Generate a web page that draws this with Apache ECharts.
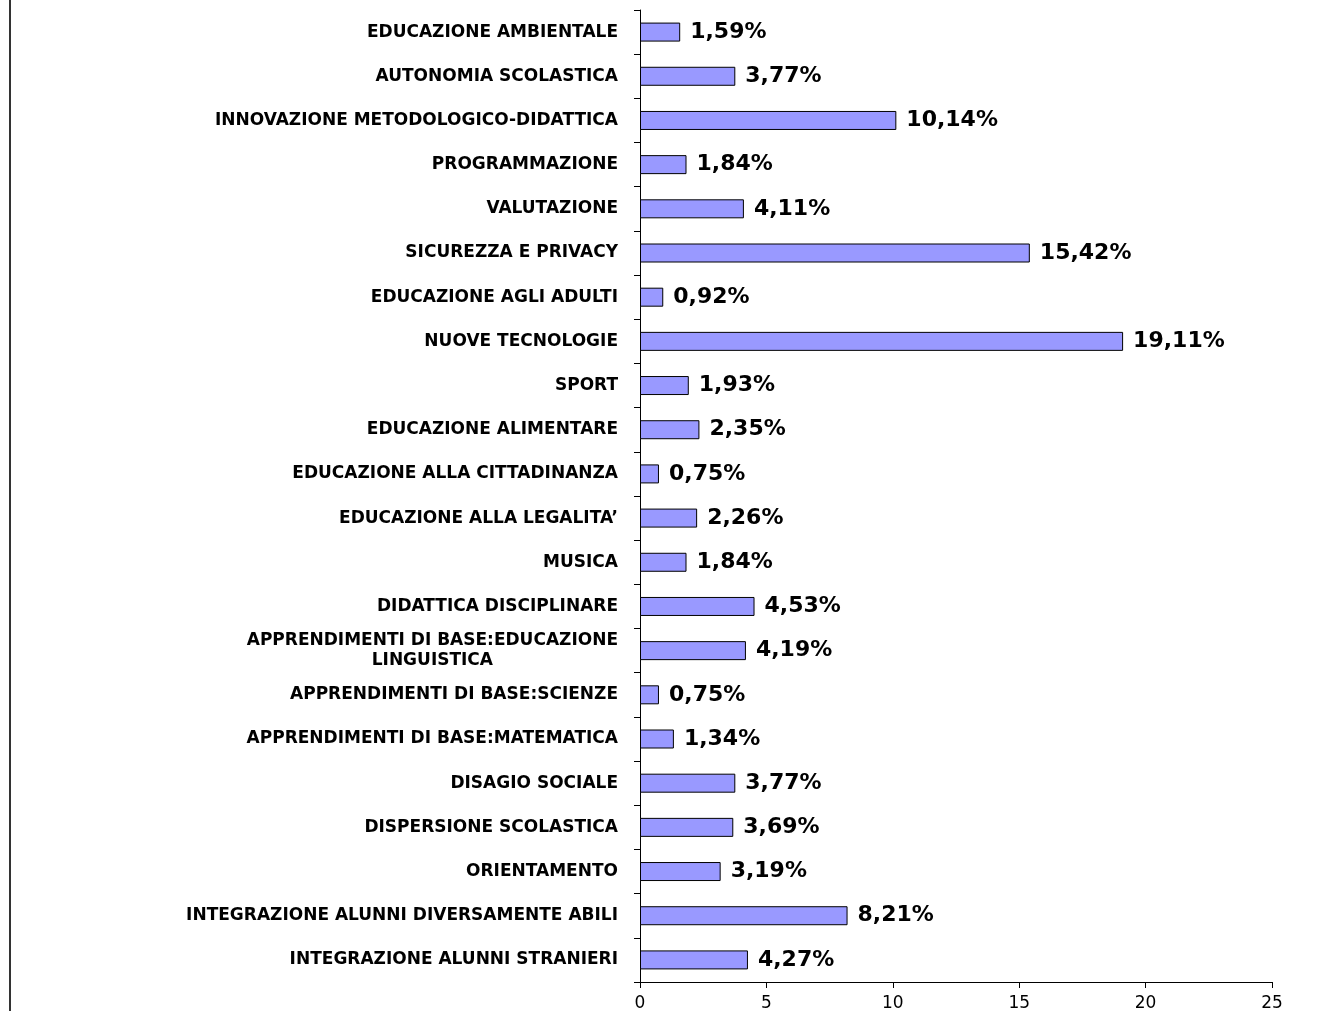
<!DOCTYPE html>
<html>
<head>
<meta charset="utf-8">
<script src="https://cdn.jsdelivr.net/npm/echarts@6/dist/echarts.min.js"></script>
<style>
  html, body { margin: 0; padding: 0; background: #fff; }
  #chart { width: 1340px; height: 1011px; }
</style>
</head>
<body>
<div id="chart"></div>
<script>
// categorie dal basso verso l'alto (come nell'asse)
const categories = [
  'INTEGRAZIONE ALUNNI STRANIERI',
  'INTEGRAZIONE ALUNNI DIVERSAMENTE ABILI',
  'ORIENTAMENTO',
  'DISPERSIONE SCOLASTICA',
  'DISAGIO SOCIALE',
  'APPRENDIMENTI DI BASE:MATEMATICA',
  'APPRENDIMENTI DI BASE:SCIENZE',
  'APPRENDIMENTI DI BASE:EDUCAZIONE\nLINGUISTICA',
  'DIDATTICA DISCIPLINARE',
  'MUSICA',
  'EDUCAZIONE ALLA LEGALITA\u2019',
  'EDUCAZIONE ALLA CITTADINANZA',
  'EDUCAZIONE ALIMENTARE',
  'SPORT',
  'NUOVE TECNOLOGIE',
  'EDUCAZIONE AGLI ADULTI',
  'SICUREZZA E PRIVACY',
  'VALUTAZIONE',
  'PROGRAMMAZIONE',
  'INNOVAZIONE METODOLOGICO-DIDATTICA',
  'AUTONOMIA SCOLASTICA',
  'EDUCAZIONE AMBIENTALE'
];

const percentuali = [
  4.27, 8.21, 3.19, 3.69, 3.77, 1.34, 0.75, 4.19, 4.53, 1.84, 2.26,
  0.75, 2.35, 1.93, 19.11, 0.92, 15.42, 4.11, 1.84, 10.14, 3.77, 1.59
];

const xTicks = [0, 5, 10, 15, 20, 25];

const chart = echarts.init(document.getElementById('chart'));

chart.setOption({
  backgroundColor: '#ffffff',
  animation: false,
  grid: { left: 640, right: 68, top: 10, bottom: 29, outerBoundsMode: 'none' },
  // bordo sinistro dell'area del grafico
  graphic: [{
    type: 'rect',
    shape: { x: 9, y: 0, width: 2, height: 1011 },
    style: { fill: '#333333' },
    silent: true
  }],
  xAxis: {
    type: 'value',
    min: xTicks[0],
    max: xTicks[xTicks.length - 1],
    interval: 5,
    splitLine: { show: false },
    axisLine: { show: true, lineStyle: { color: '#000', width: 1 } },
    axisTick: { show: true, length: 6, lineStyle: { color: '#000' } },
    axisLabel: {
      color: '#000',
      fontFamily: 'DejaVu Sans',
      fontSize: 17,
      margin: 13
    }
  },
  yAxis: {
    type: 'category',
    data: categories,
    axisLine: { show: true, lineStyle: { color: '#000', width: 1 } },
    axisTick: { show: true, length: 6, inside: false, lineStyle: { color: '#000' } },
    axisLabel: {
      color: '#000',
      fontFamily: 'DejaVu Sans',
      fontWeight: 'bold',
      fontSize: 17,
      margin: 22,
      lineHeight: 20,
      formatter: function (v) {
        // etichetta su due righe centrata
        if (v.indexOf('\n') >= 0) return '{c|' + v + '}';
        return v;
      },
      rich: {
        c: {
          align: 'center',
          color: '#000',
          fontFamily: 'DejaVu Sans',
          fontWeight: 'bold',
          fontSize: 17,
          lineHeight: 20
        }
      }
    }
  },
  series: [{
    type: 'bar',
    data: percentuali,
    barWidth: 19,
    itemStyle: {
      color: '#9999ff',
      borderColor: '#000',
      borderWidth: 1
    },
    label: {
      show: true,
      position: 'right',
      distance: 10,
      color: '#000',
      fontFamily: 'DejaVu Sans',
      fontWeight: 'bold',
      fontSize: 22,
      formatter: function (p) {
        return p.value.toFixed(2).replace('.', ',') + '%';
      }
    }
  }]
});
</script>
</body>
</html>
